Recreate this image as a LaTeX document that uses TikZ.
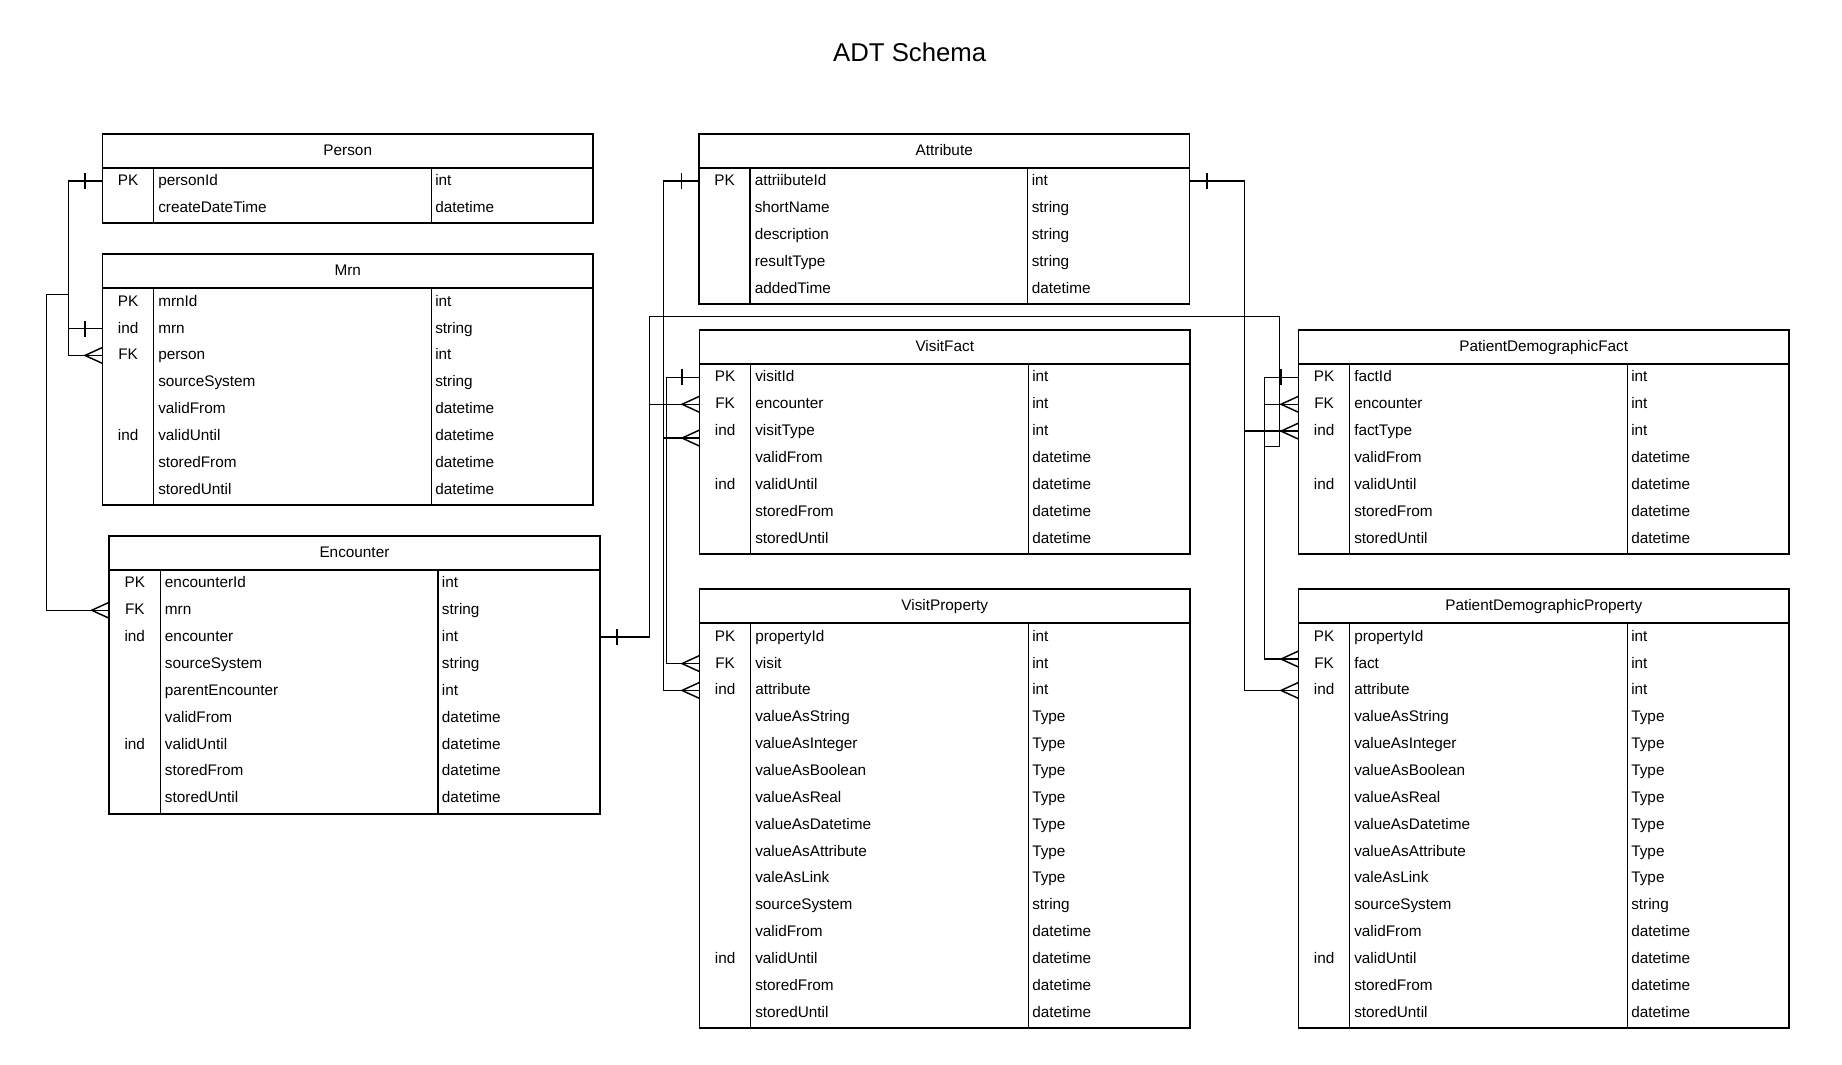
\documentclass[tikz,border=0pt]{standalone}
\usepackage{fontspec}
\setmainfont{Liberation Sans}
\tikzset{
  x=0.75pt, y=-0.75pt,
  tbl/.style={line width=1.4pt},
  divline/.style={line width=1pt},
  conn/.style={line width=1.1pt},
  cell/.style={inner sep=0pt, font=\fontsize{11.5}{13}\selectfont},
  titletext/.style={inner sep=0pt, font=\fontsize{19.3}{22}\selectfont},
}
\newcommand\ertable[6]{%
  \begin{scope}[shift={(#2,#3)}]
    \pgfmathsetmacro\tblbot{34+26.85*#5+2}
    \draw[tbl] (0,0) rectangle (490.5,\tblbot);
    \draw[tbl] (0,34) -- (490.5,34);
    \draw[divline] (51,34) -- (51,\tblbot);
    \draw[divline] (328.7,34) -- (328.7,\tblbot);
    \node[cell, anchor=base] (#1) at (245.25,21.3) {#4};
    \foreach[count=\i] \kk/\nn/\ty in {#6} {
      \pgfmathsetmacro\yc{34+26.85*(\i-0.5)}
      \pgfmathsetmacro\yb{\yc+4.5}
      \node[cell, anchor=base] (#1-k\i) at (25.6,\yb) {\kk};
      \node[cell, anchor=base west] (#1-n\i) at (55.5,\yb) {\nn};
      \node[cell, anchor=base west] (#1-t\i) at (332.5,\yb) {\ty};
      \coordinate (#1-\i-w) at (0,\yc);
      \coordinate (#1-\i-e) at (490.5,\yc);
    }
  \end{scope}
}
\newcommand\barL[1]{\draw[conn] (#1) ++(-17.5,-8) -- ++(0,16);}
\newcommand\barR[1]{\draw[conn] (#1) ++(17.5,-8) -- ++(0,16);}
\newcommand\crowL[1]{\draw[conn] (#1) ++(0,-8) -- ++(-17.5,8) -- ++(17.5,8);}
\begin{document}
\begin{tikzpicture}
\fill[white] (0,0) rectangle (1842,1064);
\useasboundingbox (0,0) rectangle (1842,1064);

\node[titletext, anchor=base] (title) at (909.7,61.7) {ADT Schema};

\ertable{person}{102.5}{133.7}{Person}{2}{PK/personId/int, {}/createDateTime/datetime}
\ertable{mrn}{102.5}{254.3}{Mrn}{8}{PK/mrnId/int, ind/mrn/string, FK/person/int, {}/sourceSystem/string, {}/validFrom/datetime, ind/validUntil/datetime, {}/storedFrom/datetime, {}/storedUntil/datetime}
\ertable{enc}{109.2}{536}{Encounter}{9}{PK/encounterId/int, FK/mrn/string, ind/encounter/int, {}/sourceSystem/string, {}/parentEncounter/int, {}/validFrom/datetime, ind/validUntil/datetime, {}/storedFrom/datetime, {}/storedUntil/datetime}
\ertable{attr}{699}{133.7}{Attribute}{5}{PK/attriibuteId/int, {}/shortName/string, {}/description/string, {}/resultType/string, {}/addedTime/datetime}
\ertable{vf}{699.5}{330}{VisitFact}{7}{PK/visitId/int, FK/encounter/int, ind/visitType/int, {}/validFrom/datetime, ind/validUntil/datetime, {}/storedFrom/datetime, {}/storedUntil/datetime}
\ertable{vp}{699.5}{589.3}{VisitProperty}{15}{PK/propertyId/int, FK/visit/int, ind/attribute/int, {}/valueAsString/Type, {}/valueAsInteger/Type, {}/valueAsBoolean/Type, {}/valueAsReal/Type, {}/valueAsDatetime/Type, {}/valueAsAttribute/Type, {}/valeAsLink/Type, {}/sourceSystem/string, {}/validFrom/datetime, ind/validUntil/datetime, {}/storedFrom/datetime, {}/storedUntil/datetime}
\ertable{pdf}{1298.5}{330}{PatientDemographicFact}{7}{PK/factId/int, FK/encounter/int, ind/factType/int, {}/validFrom/datetime, ind/validUntil/datetime, {}/storedFrom/datetime, {}/storedUntil/datetime}
\ertable{pdp}{1298.5}{589.3}{PatientDemographicProperty}{15}{PK/propertyId/int, FK/fact/int, ind/attribute/int, {}/valueAsString/Type, {}/valueAsInteger/Type, {}/valueAsBoolean/Type, {}/valueAsReal/Type, {}/valueAsDatetime/Type, {}/valueAsAttribute/Type, {}/valeAsLink/Type, {}/sourceSystem/string, {}/validFrom/datetime, ind/validUntil/datetime, {}/storedFrom/datetime, {}/storedUntil/datetime}

% routing coordinates
\coordinate (lb1) at (68.3,0);
\coordinate (lb2) at (46.7,294.5);
\coordinate (ma) at (663.3,0);
\coordinate (mv) at (666.3,0);
\coordinate (me) at (649.3,316.4);
\coordinate (ra) at (1244.3,0);
\coordinate (rp) at (1264.3,0);
\coordinate (rx) at (1279.3,446.4);
\coordinate (vfattr) at ([yshift=-5.2pt]vf-3-w);
\coordinate (pdpfact) at ([yshift=3.4pt]pdp-2-w);

% left connectors
\draw[conn] (person-1-w) -- (lb1 |- person-1-w) |- (mrn-3-w);
\draw[conn] (mrn-2-w) -- (lb1 |- mrn-2-w) -- (lb1 |- lb2) -- (lb2) |- (enc-2-w);
\barL{person-1-w} \crowL{mrn-3-w} \barL{mrn-2-w} \crowL{enc-2-w}

% middle connectors
\draw[conn] (attr-1-w) -- (ma |- attr-1-w) -- (ma |- vp-3-w) -- (vp-3-w);
\draw[conn] (ma |- vfattr) -- (vfattr);
\draw[conn] (vf-1-w) -- (mv |- vf-1-w) |- (vp-2-w);
\draw[conn] (enc-3-e) -- (me |- enc-3-e) |- (vf-2-w);
\draw[conn] (me |- vf-2-w) -- (me) -- (rx |- me) -- (rx) -- (rp |- rx) -- (rp |- pdf-2-w) -- (pdf-2-w);
\barL{attr-1-w} \crowL{vfattr} \crowL{vp-3-w} \barL{vf-1-w} \crowL{vp-2-w} \barR{enc-3-e} \crowL{vf-2-w}

% right connectors
\draw[conn] (attr-1-e) -- (ra |- attr-1-e) -- (ra |- pdp-3-w) -- (pdp-3-w);
\draw[conn] (ra |- pdf-3-w) -- (pdf-3-w);
\draw[conn] (pdf-1-w) -- (rp |- pdf-1-w) -- (rp |- pdpfact) -- (pdpfact);
\barR{attr-1-e} \crowL{pdf-3-w} \crowL{pdp-3-w} \barL{pdf-1-w} \crowL{pdpfact} \crowL{pdf-2-w}
\end{tikzpicture}
\end{document}
